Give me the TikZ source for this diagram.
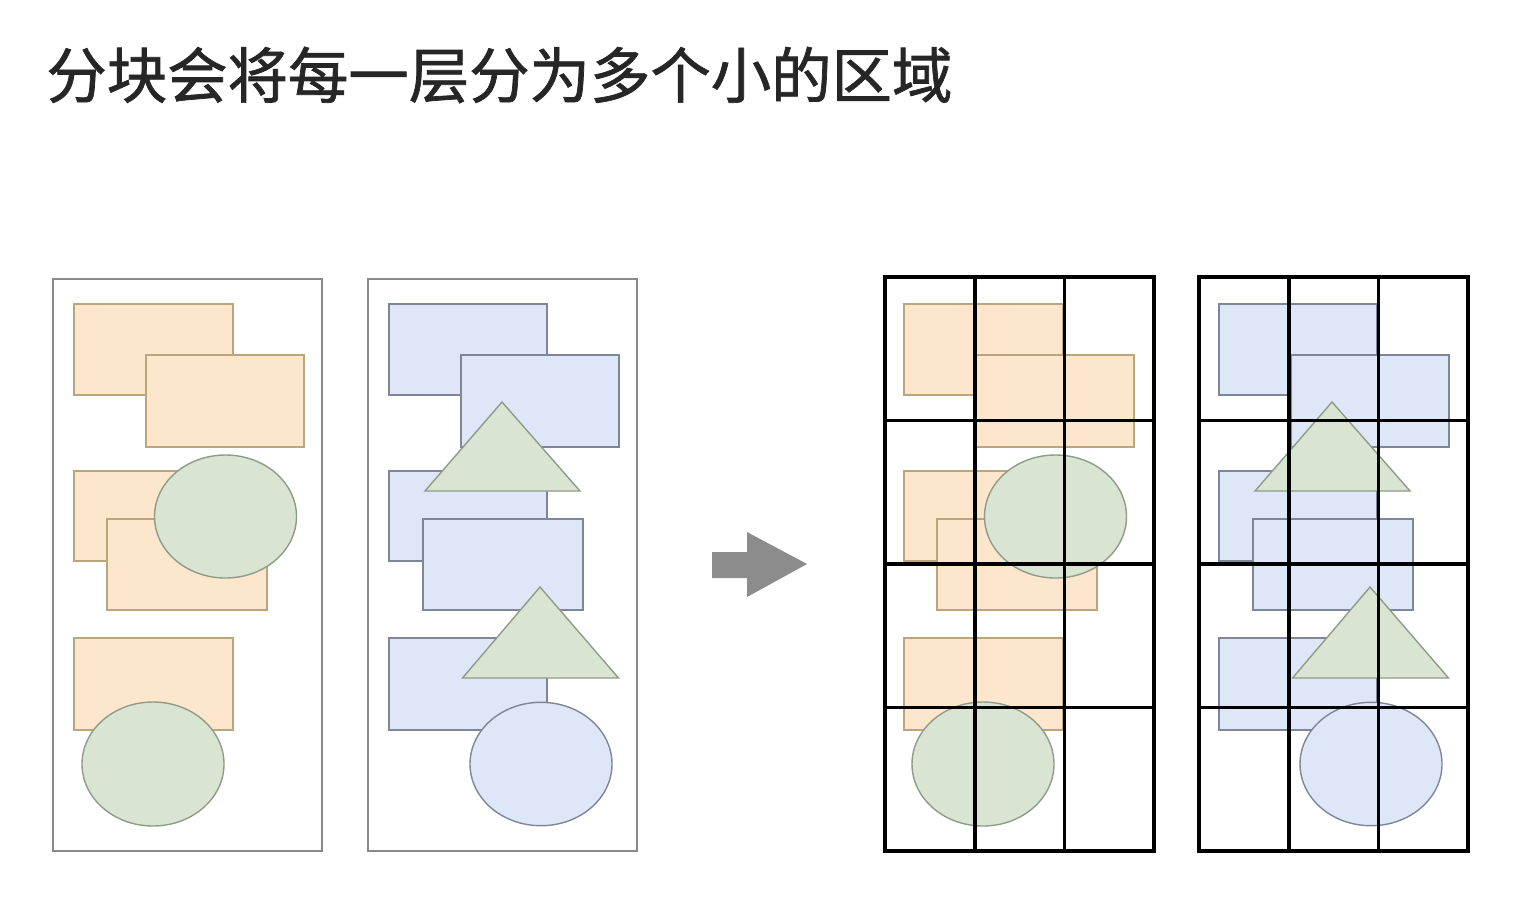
\documentclass[tikz,border=0pt]{standalone}
\usepackage{fontspec}
\newfontfamily\cjk[FakeBold=1.2]{Noto Sans CJK SC}
\definecolor{orfill}{HTML}{FCE6CC}
\definecolor{ordraw}{HTML}{BBA57C}
\definecolor{grfill}{HTML}{D9E4D2}
\definecolor{grdraw}{HTML}{8E9C88}
\definecolor{blfill}{HTML}{DEE7F8}
\definecolor{bldraw}{HTML}{7E8698}
\definecolor{framegray}{HTML}{8A8A8A}
\definecolor{arrowgray}{HTML}{8C8C8C}
\newcommand\layerOneShapes{%
  \draw[orshape] (74,304) rectangle (233,395);
  \draw[orshape] (146,355) rectangle (304,447);
  \draw[orshape] (74,471) rectangle (233,561);
  \draw[orshape] (107,519) rectangle (267,610);
  \draw[grshape] (225.5,516.5) ellipse [x radius=71, y radius=61.5];
  \draw[orshape] (74,638) rectangle (233,730);
  \draw[grshape] (153,764) ellipse [x radius=71, y radius=62];
}
\newcommand\layerTwoShapes{%
  \draw[blshape] (389,304) rectangle (547,395);
  \draw[blshape] (461,355) rectangle (619,447);
  \draw[blshape] (389,471) rectangle (547,561);
  \draw[blshape] (423,519) rectangle (583,610);
  \draw[grshape] (502,402) -- (580,491) -- (425,491) -- cycle;
  \draw[blshape] (389,638) rectangle (547,730);
  \draw[grshape] (540,587) -- (618.5,678) -- (462.5,678) -- cycle;
  \draw[blshape] (541,764) ellipse [x radius=71, y radius=61.7];
}
\begin{document}
\begin{tikzpicture}[x=0.5pt,y=-0.5pt,
  orshape/.style={fill=orfill,draw=ordraw,line width=0.7pt},
  grshape/.style={fill=grfill,draw=grdraw,line width=0.7pt},
  blshape/.style={fill=blfill,draw=bldraw,line width=0.7pt},
  layerframe/.style={draw=framegray,line width=0.75pt},
  gridline/.style={draw=black,line width=1.8pt}]
\useasboundingbox (0,0) rectangle (1524,900);
\fill[white] (0,0) rectangle (1524,900);
% title
\node[anchor=west,inner sep=0pt,font=\cjk\fontsize{30.2pt}{36pt}\selectfont,text=black!85] (title) at (46,75) {分块会将每一层分为多个小的区域};
% left: two layers
\layerOneShapes
\layerTwoShapes
\draw[layerframe] (53,279) rectangle (322,851);
\draw[layerframe] (368,279) rectangle (637,851);
% arrow
\fill[arrowgray] (712,552) -- (747,552) -- (747,532) -- (807,564) -- (747,597) -- (747,578) -- (712,578) -- cycle;
% right: tiled layers
\begin{scope}[shift={(830,0)}]
  \layerOneShapes
  \layerTwoShapes
\end{scope}
\foreach \x in {885,1199}{
  \draw[gridline] (\x,277) rectangle (\x+269,851);
  \draw[gridline] (\x+89.7,277) -- (\x+89.7,851);
  \draw[gridline] (\x+179.3,277) -- (\x+179.3,851);
  \draw[gridline] (\x,420.5) -- (\x+269,420.5);
  \draw[gridline] (\x,564) -- (\x+269,564);
  \draw[gridline] (\x,707.5) -- (\x+269,707.5);
}
\end{tikzpicture}
\end{document}
